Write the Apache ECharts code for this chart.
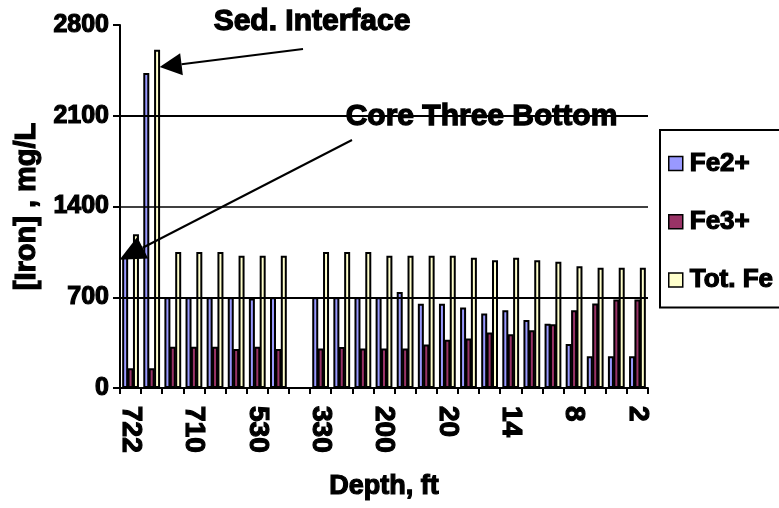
<!DOCTYPE html>
<html>
<head>
<meta charset="utf-8">
<script src="https://cdn.jsdelivr.net/npm/echarts@6/dist/echarts.min.js"></script>
<style>
  html, body { margin: 0; padding: 0; background: #ffffff; }
  #chart { width: 779px; height: 508px; }
</style>
</head>
<body>
<div id="chart"></div>
<script>
// Depth categories (only every third sample depth is labelled on the axis)
const depthLabels = ['722', '', '', '710', '', '', '530', '', '', '330', '', '', '200', '', '', '20', '', '', '14', '', '', '8', '', '', '2'];

// Iron concentrations, mg/L
const fe2 = [1010, 2430, 700, 700, 700, 700, 690, 700, null, 700, 700, 700, 700, 740, 650, 650, 620, 575, 600, 525, 495, 340, 245, 245, 245];
const fe3 = [152, 152, 318, 318, 318, 300, 318, 300, null, 304, 316, 304, 304, 304, 335, 373, 381, 428, 415, 445, 492, 600, 651, 682, 682];
const totFe = [1185, 2610, 1050, 1050, 1050, 1020, 1020, 1020, null, 1050, 1050, 1050, 1020, 1020, 1020, 1020, 1005, 985, 1005, 985, 973, 940, 927, 927, 927];

const seriesNames = ['Fe2+', 'Fe3+', 'Tot. Fe'];
const seriesColors = ['#9999ff', '#993366', '#ffffcc'];
const gridLevels = [700, 1400, 2100];

const FONT = "'Liberation Sans', Arial, sans-serif";
// heavy black lettering
const heavy = { fontFamily: FONT, fontWeight: 'bold', color: '#000', textBorderColor: '#000', textBorderWidth: 1.2 };

const chart = echarts.init(document.getElementById('chart'));

function barSeries(name, data, color, withGrid) {
  const s = {
    name: name,
    type: 'bar',
    data: data,
    barWidth: 6,
    barGap: '-10%',
    itemStyle: { color: color, borderColor: '#000', borderWidth: 2 },
    emphasis: { disabled: true }
  };
  if (withGrid) {
    s.markLine = {
      silent: true,
      symbol: 'none',
      label: { show: false },
      lineStyle: { color: '#000', type: 'solid', width: 2 },
      data: gridLevels.map(v => ({ yAxis: v, lineStyle: { width: v === 1400 ? 1.5 : 2 } }))
    };
  }
  return s;
}

chart.setOption({
  animation: false,
  backgroundColor: '#ffffff',
  grid: { left: 120, right: 131, top: 25, bottom: 120, containLabel: false },
  legend: {
    orient: 'vertical',
    left: 660,
    top: 130,
    padding: [20, 80, 14, 8],
    itemWidth: 14,
    itemHeight: 14,
    itemGap: 31,
    borderColor: '#000',
    borderWidth: 2,
    icon: 'rect',
    itemStyle: { borderColor: '#000', borderWidth: 1.5 },
    textStyle: Object.assign({ fontSize: 26, lineHeight: 20, padding: [0, 0, 0, 2] }, heavy),
    data: seriesNames
  },
  xAxis: {
    type: 'category',
    data: depthLabels,
    name: 'Depth, ft',
    nameLocation: 'middle',
    nameGap: 85,
    nameTextStyle: Object.assign({ fontSize: 27 }, heavy),
    axisLine: { lineStyle: { color: '#000', width: 2 } },
    axisTick: { show: true, interval: 0, length: 6, lineStyle: { color: '#000', width: 2 } },
    axisLabel: Object.assign({ interval: 0, rotate: -90, margin: 18, fontSize: 28 }, heavy),
    splitLine: { show: false }
  },
  yAxis: {
    type: 'value',
    min: 0,
    max: 2800,
    interval: 700,
    name: '[Iron] , mg/L',
    nameLocation: 'middle',
    nameGap: 77,
    nameTextStyle: Object.assign({ fontSize: 29 }, heavy),
    axisLine: { show: true, lineStyle: { color: '#000', width: 2 } },
    axisTick: { show: true, length: 7, lineStyle: { color: '#000', width: 2 } },
    axisLabel: Object.assign({ margin: 11, fontSize: 25, formatter: v => String(v) }, heavy),
    splitLine: { show: false }
  },
  series: [
    barSeries(seriesNames[0], fe2, seriesColors[0], true),
    barSeries(seriesNames[1], fe3, seriesColors[1], false),
    barSeries(seriesNames[2], totFe, seriesColors[2], false)
  ]
});

// Annotation arrows pointing at the sediment-interface spike and the core bottom sample
function arrow(tail, tip, headLen, headHalf) {
  const dx = tip[0] - tail[0], dy = tip[1] - tail[1];
  const len = Math.sqrt(dx * dx + dy * dy);
  const ux = dx / len, uy = dy / len;
  const bx = tip[0] - ux * headLen, by = tip[1] - uy * headLen;
  const px = -uy, py = ux;
  return [
    { type: 'line', silent: true, z: 100,
      shape: { x1: tail[0], y1: tail[1], x2: bx, y2: by },
      style: { stroke: '#000', lineWidth: 2 } },
    { type: 'polygon', silent: true, z: 100,
      shape: { points: [tip, [bx + px * headHalf, by + py * headHalf], [bx - px * headHalf, by - py * headHalf]] },
      style: { fill: '#000' } }
  ];
}

const spikeTip = chart.convertToPixel({ xAxisIndex: 0, yAxisIndex: 0 }, [1, 2476]);
spikeTip[0] += 8;
const coreTip = chart.convertToPixel({ xAxisIndex: 0, yAxisIndex: 0 }, [0, 990]);
coreTip[0] -= 11;

const titleStyle = { fontFamily: FONT, fontSize: 30, fontWeight: 'bold', fill: '#000', stroke: '#000', lineWidth: 1.3 };

chart.setOption({
  graphic: [
    { type: 'text', silent: true, z: 110, left: 213, top: 6,
      style: Object.assign({ text: 'Sed. Interface' }, titleStyle) },
    { type: 'text', silent: true, z: 110, left: 345, top: 101,
      style: Object.assign({ text: 'Core Three Bottom' }, titleStyle) }
  ].concat(arrow([303, 49], spikeTip, 22, 11), arrow([352, 140], coreTip, 26, 12))
});
</script>
</body>
</html>
